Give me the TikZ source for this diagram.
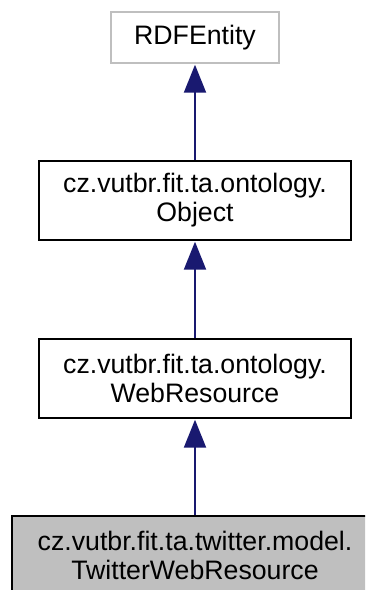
\documentclass[tikz,border=0pt]{standalone}
\usepackage{fontspec}
\setmainfont{Liberation Sans}
\usetikzlibrary{arrows.meta}
\definecolor{edgeblue}{HTML}{191970}
\definecolor{boxgray}{HTML}{BFBFBF}
\begin{document}
\begin{tikzpicture}[x=1pt,y=-1pt,
  cls/.style={draw=black, line width=2.4pt, fill=white, inner sep=0pt, align=center,
    font=\fontsize{26.7}{29}\selectfont, minimum width=312pt, minimum height=79pt},
  extcls/.style={cls, draw=boxgray, minimum width=168pt, minimum height=51pt},
  curcls/.style={cls, fill=boxgray, minimum width=366pt},
  inherit/.style={draw=edgeblue, line width=2pt, -{Triangle[length=28pt,width=22pt]}, shorten >=0.5pt}]
\useasboundingbox (0,0) rectangle (365,590);
\clip (0,0) rectangle (365,590);
\node[extcls] (rdf) at (195,37.5) {RDFEntity};
\node[cls] (obj) at (195,200.5) {cz.vutbr.fit.ta.ontology.\\Object};
\node[cls] (web) at (195,378.5) {cz.vutbr.fit.ta.ontology.\\WebResource};
\node[curcls] (tw) at (195,555.5) {cz.vutbr.fit.ta.twitter.model.\\TwitterWebResource};
\draw[inherit] (obj) -- (rdf);
\draw[inherit] (web) -- (obj);
\draw[inherit] (tw) -- (web);
\end{tikzpicture}
\end{document}
